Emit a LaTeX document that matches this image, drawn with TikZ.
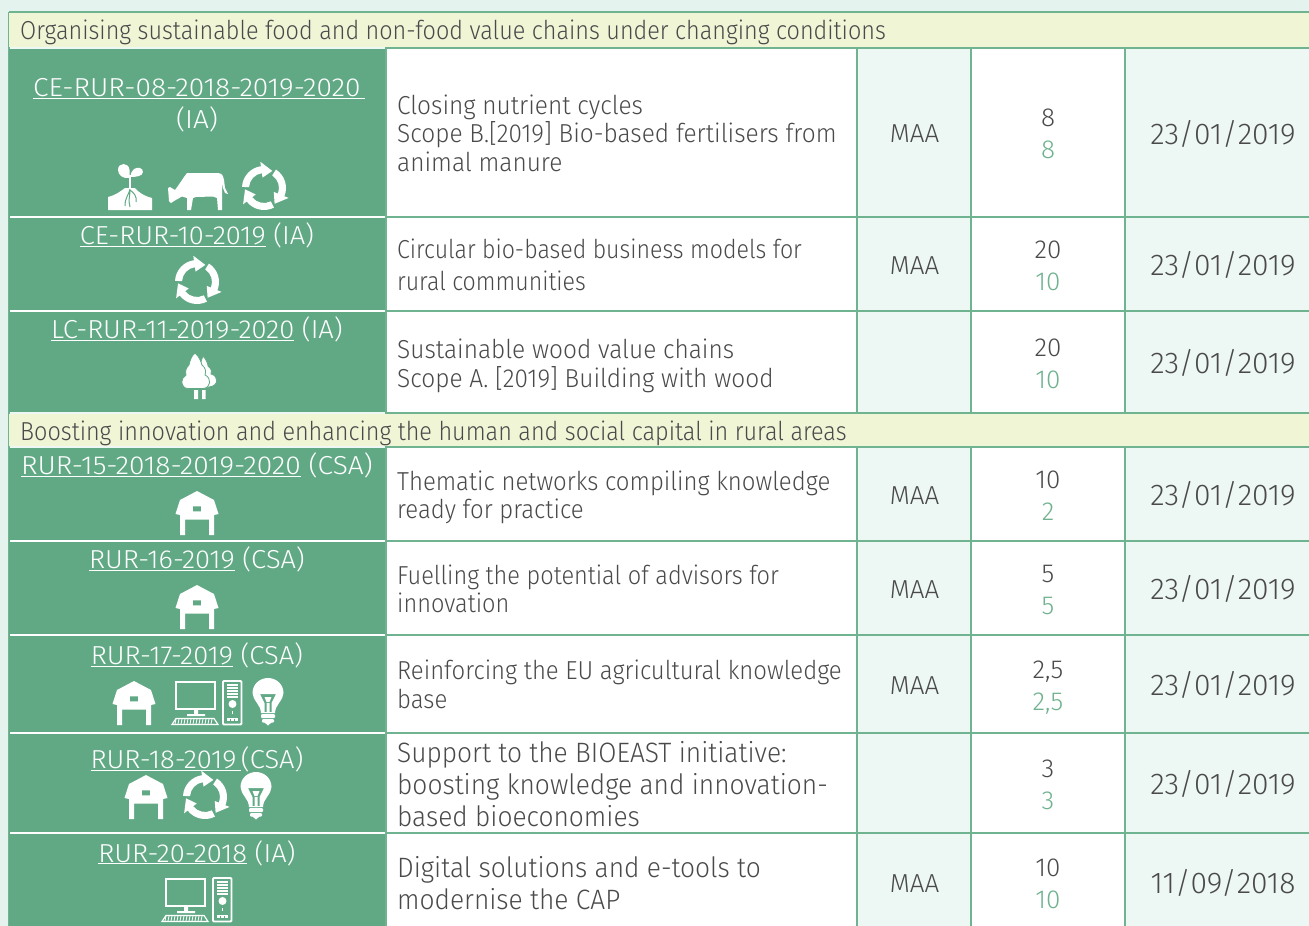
\documentclass[tikz,border=0pt]{standalone}
\usepackage{fontspec}
\setmainfont{Fira Sans Light}
\newfontfamily\bodyf[FakeStretch=0.94]{Fira Sans Light}
\newfontfamily\bodyn[FakeStretch=0.92]{Fira Sans Light}
\newfontfamily\bodym[FakeStretch=0.905]{Fira Sans Light}
\newfontfamily\bodyc[FakeStretch=0.89]{Fira Sans Light}
\newfontfamily\headf[FakeStretch=0.90]{Fira Sans Light}
\newfontfamily\codef[FakeStretch=1.08]{Fira Sans Light}
\newfontfamily\coden[FakeStretch=1.05]{Fira Sans Light}
\definecolor{pagebg}{HTML}{E4F3EE}
\definecolor{rule}{HTML}{6FB391}
\definecolor{head}{HTML}{F0F5D6}
\definecolor{codebg}{HTML}{61A985}
\definecolor{pale}{HTML}{EDF7F4}
\definecolor{ink}{HTML}{4A4A4A}
\definecolor{num}{HTML}{70B28F}
\newcommand{\ul}[1]{\underline{#1}}
\tikzset{
 x=1pt,y=-1pt,
 txt/.style={inner sep=0,text=ink,font=\bodyf\fontsize{#1}{#1}\selectfont,anchor=base west},
 txt/.default=26,
 txtn/.style={txt,font=\bodyn\fontsize{26}{26}\selectfont},
 txtm/.style={txt,font=\bodym\fontsize{26}{26}\selectfont},
 txtc/.style={txt,font=\bodyc\fontsize{26}{26}\selectfont},
 hd/.style={inner sep=0,text=ink,font=\headf\fontsize{26}{26}\selectfont,anchor=base west},
 ctr/.style={inner sep=0,text=ink,font=\fontsize{26}{26}\selectfont,anchor=base},
 code/.style={inner sep=0,text=white,font=\codef\fontsize{26}{26}\selectfont,anchor=base},
 coden/.style={code,font=\coden\fontsize{26}{26}\selectfont},
 g/.style={inner sep=0,text=num,font=\fontsize{26}{26}\selectfont,anchor=base},
 recycle/.pic={
  \foreach \a in {0,120,240}{
   \fill[white,rotate=\a] (183:15) arc (183:262:15) -- (262:10.5) -- (296:19) -- (262:26.5) -- (262:22) arc (262:183:22) -- cycle;
  }},
 barn/.pic={
  \fill[white,even odd rule] (0,-22) -- (17,-13) -- (21.5,1) -- (17,2) -- (17,22) -- (12,22) -- (12,6.5) -- (-12,6.5) -- (-12,22) -- (-17,22) -- (-17,2) -- (-21.5,1) -- (-17,-13) -- cycle
   (-4.2,-6.6) rectangle (4.2,-1.6);
 },
 computer/.pic={
  \draw[white,line width=2.2] (-32,-21) rectangle (7,6);
  \fill[white] (-14,7) rectangle (-10,11) (-21,11) rectangle (-3,13);
  \draw[white,line width=1.2] (-36,21.5) -- (-32,15.5) -- (6,15.5) -- (10,21.5) -- cycle;
  \foreach \k in {-32,-29,...,5}{\draw[white,line width=.8] (\k,16) -- (\k-1,21);}
  \draw[white,line width=1.8,rounded corners=1] (15,-22) rectangle (33.5,21.5);
  \foreach \k in {-18,-15,...,-6}{\draw[white,line width=1.3] (19,\k) -- (30,\k);}
  \fill[white] (24.5,1) circle (4);
  \fill[white] (24,8) rectangle (25,11);
  \fill[white] (19,14.5) rectangle (30,18);
  \foreach \k in {22,26}{\fill[codebg] (\k,15.5) rectangle (\k+.8,18);}
 },
 bulb/.pic={
  \fill[white,even odd rule] (-7,11) .. controls (-7,3) and (-15.5,-2) .. (-15.5,-9) .. controls (-15.5,-18) and (-8,-24) .. (0,-24) .. controls (8,-24) and (15.5,-18) .. (15.5,-9) .. controls (15.5,-2) and (7,3) .. (7,11) -- cycle
   (-8,-8) -- (8,-8) -- (3.5,1) -- (3.5,10) -- (-3.5,10) -- (-3.5,1) -- cycle;
  \fill[white] (-1.5,1) rectangle (1.5,11) (-3.5,-5) -- (3.5,-5) -- (1.5,0) -- (-1.5,0) -- cycle;
  \fill[white,rounded corners=1] (-7,12) rectangle (7,16) (-6,17) rectangle (6,20.5);
  \fill[white] (-4,20) -- (4,20) -- (0,23.5) -- cycle;
 },
 sprout/.pic={
  \fill[white] (-22,23) -- (-22,10) .. controls (-14,8) and (-9,4) .. (-5,1) -- (5,1) .. controls (8,5) and (14,9) .. (22,11) -- (22,23) -- cycle;
  \fill[white] (-1.2,3) rectangle (1.2,-12);
  \fill[white] (-0.5,-9) .. controls (-7,-8) and (-12,-12) .. (-12,-17) .. controls (-12,-25) and (-1,-25) .. (-0.5,-17) -- cycle;
  \fill[white] (0.5,-10) .. controls (1,-18) and (6,-20) .. (10,-19) .. controls (14,-18) and (14,-12) .. (9,-11) .. controls (6,-10) and (3,-10) .. (0.5,-10) -- cycle;
  \draw[codebg,line width=1] (0,2) .. controls (-1,8) and (-5,10) .. (-5,19) (0,2) .. controls (0,10) and (-2,13) .. (0,20) (0,3) .. controls (4,6) and (7,9) .. (6,15);
  \draw[white,line width=1] (-1,2) .. controls (-4,4) and (-6,6) .. (-9,12) (1,2) .. controls (4,4) and (6,5) .. (9,9);
 },
 cow/.pic={
  \fill[white] (-29,0) -- (-27,-1) -- (-22,2) .. controls (-18,-3) and (-14,-10) .. (-10,-15) -- (20,-15) .. controls (25,-15) and (26,-13) .. (27,-8) -- (28,0) -- (31,6) -- (28,5) -- (26,0) -- (25.5,-6) -- (25,2) -- (25,22) -- (21,22) -- (20,10) -- (16,8.5) -- (-1,9) -- (-4,10) -- (-6,22) -- (-10,22) -- (-10,10) -- (-15,8.5) -- (-23,13) -- (-26,15) -- (-28,13) -- cycle;
 },
 tree/.pic={
  \fill[white,draw=codebg,line width=.8] (4,-21) .. controls (7,-18) and (9,-13) .. (9,-11) .. controls (13,-8) and (13,-5) .. (12,-3) .. controls (20,-1) and (20,9) .. (10,10) -- (0,10) -- (0,-10) -- cycle;
  \fill[white,draw=codebg,line width=.8] (-4,-24) .. controls (-1,-22) and (2,-16) .. (3,-12) .. controls (7,-9) and (7,-5) .. (6,-2) .. controls (13,1) and (12,11) .. (4,11.5) -- (-11,11.5) .. controls (-19,11) and (-19,1) .. (-13,-2) .. controls (-14,-6) and (-13,-9) .. (-10,-12) .. controls (-9,-17) and (-7,-22) .. (-4,-24) -- cycle;
  \fill[white] (-5,13) rectangle (-1,22) (3,13) rectangle (6.5,22);
 },
}
\begin{document}
\begin{tikzpicture}
\useasboundingbox (0,0) rectangle (1309,926);
\fill[pagebg] (0,0) rectangle (1309,926);
% fills
\fill[white] (386,48) rectangle (1309,926);
\fill[head] (9,12) rectangle (1309,48);
\fill[head] (9,413) rectangle (1309,447);
\foreach \ya/\yb in {48/413,447/926}{
 \fill[codebg] (9,\ya) rectangle (386,\yb);
 \fill[pale] (857,\ya) rectangle (971,\yb);
 \fill[pale] (1125,\ya) rectangle (1309,\yb);
 \foreach \xx in {386,857,971,1125}{\draw[rule,line width=1.5] (\xx,\ya) -- (\xx,\yb);}
}
\draw[rule,line width=1.5] (8.5,12) -- (8.5,926);
\foreach \yy in {12,48,413,447}{\draw[rule,line width=1.5] (9,\yy) -- (1309,\yy);}
\foreach \yy in {48,413,447}{\draw[pale,line width=1.2] (10,\yy) -- (385,\yy);}
\foreach \yy in {217,311,541,635,733,833}{
 \draw[rule,line width=1.5] (386,\yy) -- (1309,\yy);
 \draw[white,line width=1.2] (10,\yy) -- (385,\yy);}
% headings
\node[hd] (h1) at (20,39) {Organising sustainable food and non-food value chains under changing conditions};
\node[hd] (h2) at (20,440) {Boosting innovation and enhancing the human and social capital in rural areas};
% codes
\node[code] (c1) at (199,96) {\ul{CE-RUR-08-2018-2019-2020\,}};
\node[code] (c1b) at (197,128) {(IA)};
\node[coden] (c2) at (197,244) {\ul{CE-RUR-10-2019} (IA)};
\node[coden] (c3) at (197,338) {\ul{LC-RUR-11-2019-2020} (IA)};
\node[code] (c4) at (197,474) {\ul{RUR-15-2018-2019-2020} (CSA)};
\node[coden] (c5) at (197,568) {\ul{RUR-16-2019} (CSA)};
\node[coden] (c6) at (197,664) {\ul{RUR-17-2019} (CSA)};
\node[coden] (c7) at (197,768) {\ul{RUR-18-2019\,}(CSA)};
\node[coden] (c8) at (197,862) {\ul{RUR-20-2018} (IA)};
% icons
\pic at (130,187) {sprout};
\pic at (197,188) {cow};
\pic at (264,188) {recycle};
\pic at (197,282) {recycle};
\pic at (199,377) {tree};
\pic at (197,513) {barn};
\pic at (197,607) {barn};
\pic at (134,703) {barn};
\pic at (208,703) {computer};
\pic at (268,702) {bulb};
\pic at (146,797) {barn};
\pic at (205,797) {recycle};
\pic at (256,796) {bulb};
\pic at (198,900) {computer};
% descriptions
\node[txt] (d1a) at (397,114) {Closing nutrient cycles};
\node[txt] (d1b) at (397,142) {Scope B.[2019] Bio-based fertilisers from};
\node[txt] (d1c) at (397,171) {animal manure};
\node[txtc] (d2a) at (397,258) {Circular bio-based business models for};
\node[txtc] (d2b) at (397,290) {rural communities};
\node[txt] (d3a) at (397,358) {Sustainable wood value chains};
\node[txt] (d3b) at (397,387) {Scope A. [2019] Building with wood};
\node[txtn] (d4a) at (397,490) {Thematic networks compiling knowledge};
\node[txtn] (d4b) at (397,518) {ready for practice};
\node[txtm] (d5a) at (397,584) {Fuelling the potential of advisors for};
\node[txtm] (d5b) at (397,612) {innovation};
\node[txtn] (d6a) at (397,679) {Reinforcing the EU agricultural knowledge};
\node[txtn] (d6b) at (397,708) {base};
\node[txt=28] (d7a) at (397,762) {Support to the BIOEAST initiative:};
\node[txt=28] (d7b) at (397,794) {boosting knowledge and innovation-};
\node[txt=28] (d7c) at (397,826) {based bioeconomies};
\node[txt=28] (d8a) at (397,877) {Digital solutions and e-tools to};
\node[txt=28] (d8b) at (397,909) {modernise the CAP};
% MAA
\node[ctr] (m1) at (914.5,142) {MAA};
\node[ctr] (m2) at (914.5,274) {MAA};
\node[ctr] (m4) at (914.5,504) {MAA};
\node[ctr] (m5) at (914.5,598) {MAA};
\node[ctr] (m6) at (914.5,694) {MAA};
\node[ctr] (m8) at (914.5,892) {MAA};
% numbers
\foreach \nm/\yy/\a/\b in {n1/126/8/8,n2/258/20/10,n3/356/20/10,n4/488/10/2,n5/582/5/5,n6/678/{2,5}/{2,5},n7/777/3/3,n8/876/10/10}{
 \node[ctr] (\nm a) at (1048,\yy) {\a};
 \node[g] (\nm b) at (1048,\yy+32) {\b};
}
% dates
\foreach \nm/\yy/\d in {t1/144/23\slash 01\slash 2019,t2/275/23\slash 01\slash 2019,t3/373/23\slash 01\slash 2019,t4/505/23\slash 01\slash 2019,t5/599/23\slash 01\slash 2019,t6/695/23\slash 01\slash 2019,t7/794/23\slash 01\slash 2019,t8/893/11\slash 09\slash 2018}{
 \node[ctr,font=\fontsize{30}{30}\selectfont] (\nm) at (1223,\yy) {\d};
}
\end{tikzpicture}
\end{document}
